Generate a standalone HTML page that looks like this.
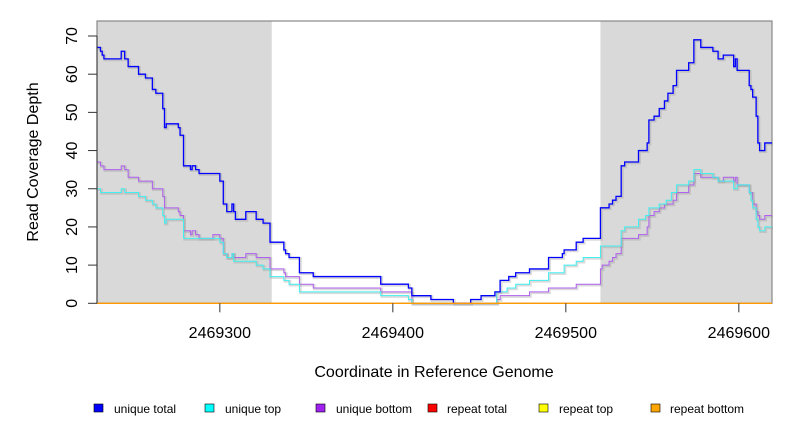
<!DOCTYPE html>
<html><head><meta charset="utf-8"><style>
body{margin:0;background:#fff;}
svg{display:block;font-family:"Liberation Sans",sans-serif;}
</style></head><body>
<svg id="c" width="792" height="432">
</svg>
<script>
const xTicks=[2469300,2469400,2469500,2469600];
const yTicks=[0,10,20,30,40,50,60,70];
const repeatRegions=[[2469229,2469330],[2469520,2469619]];
const totalX=[2469229,2469231,2469232,2469233,2469243,2469245,2469247,2469253,2469257,2469261,2469263,2469267,2469268,2469269,2469276,2469277,2469279,2469283,2469284,2469286,2469288,2469300,2469302,2469304,2469307,2469308,2469309,2469315,2469321,2469325,2469329,2469337,2469338,2469340,2469346,2469354,2469393,2469409,2469411,2469422,2469435,2469445,2469451,2469459,2469462,2469467,2469471,2469479,2469490,2469498,2469499,2469506,2469510,2469520,2469521,2469525,2469527,2469529,2469532,2469534,2469542,2469547,2469548,2469551,2469554,2469557,2469559,2469562,2469564,2469571,2469574,2469578,2469585,2469588,2469591,2469597,2469598,2469599,2469606,2469607,2469608,2469610,2469611,2469612,2469615];
const totalV=[67,66,65,64,66,64,62,60,59,56,55,51,46,47,46,44,36,35,36,35,34,32,26,24,26,24,22,24,22,21,16,14,13,12,8,7,5,4,2,1,0,1,2,3,6,7,8,9,12,13,14,16,17,25,25,26,27,28,36,37,40,42,48,49,51,53,55,57,61,63,69,67,66,64,65,62,64,61,57,56,54,49,42,40,42];
const topX=[2469229,2469231,2469243,2469245,2469253,2469257,2469261,2469263,2469267,2469268,2469269,2469279,2469300,2469302,2469304,2469307,2469308,2469315,2469321,2469325,2469329,2469337,2469340,2469346,2469393,2469409,2469411,2469460,2469466,2469471,2469479,2469490,2469499,2469506,2469510,2469520,2469532,2469534,2469542,2469546,2469548,2469554,2469558,2469561,2469564,2469571,2469574,2469578,2469585,2469588,2469597,2469599,2469606,2469607,2469608,2469610,2469611,2469612,2469615];
const topV=[30,29,30,29,28,27,26,25,23,21,22,17,16,13,12,13,11,11,10,9,7,6,5,3,2,1,0,3,4,5,6,8,10,11,12,15,19,20,22,23,25,26,27,29,31,32,35,34,33,32,30,31,29,27,25,22,20,19,20];
const bottomX=[2469229,2469231,2469233,2469243,2469245,2469247,2469253,2469261,2469267,2469268,2469276,2469277,2469279,2469283,2469284,2469286,2469288,2469296,2469300,2469302,2469304,2469307,2469308,2469315,2469321,2469329,2469337,2469338,2469346,2469354,2469393,2469411,2469460,2469462,2469479,2469490,2469506,2469520,2469521,2469525,2469527,2469529,2469532,2469542,2469547,2469548,2469551,2469554,2469557,2469562,2469564,2469571,2469574,2469578,2469588,2469591,2469597,2469598,2469599,2469606,2469608,2469610,2469611,2469612,2469615];
const bottomV=[37,36,35,36,35,33,32,30,28,25,24,23,19,18,19,18,17,18,17,13,12,13,12,13,12,9,8,7,5,4,3,0,1,2,3,4,5,9,10,11,12,13,17,18,20,23,24,25,26,27,29,31,34,33,32,33,32,33,31,29,26,24,23,22,23];
const XMIN=2469229,XMAX=2469619,YMAX=70;
const L=97,R=772,T=21,B=303.3;
const sx=v=>L+(v-XMIN)*1.73;
const sy=v=>B-v*(B-36)/70;
const svg=document.getElementById('c');
const NS='http://www.w3.org/2000/svg';
function mk(tag,attrs,parent){const e=document.createElementNS(NS,tag);for(const k in attrs)e.setAttribute(k,attrs[k]);(parent||svg).appendChild(e);return e;}
repeatRegions.forEach(r=>{
 const e=mk('rect',{x:sx(r[0]),y:T,width:sx(r[1])-sx(r[0]),height:B-T,fill:'#d9d9d9'});
 
 
});
const box=mk('rect',{x:L,y:T,width:R-L,height:B-T,fill:'none',stroke:'#888','stroke-width':1.2});


function stepPath(xs,vs){let d='';for(let i=0;i<xs.length;i++){const x=sx(xs[i]),y=sy(vs[i]);if(i===0)d+='M'+x+' '+y;else d+=' V'+y;const nx=i<xs.length-1?sx(xs[i+1]):R;d+=' H'+nx;}return d;}
function line(xs,vs,color,name,w){
 const sh=mk('path',{d:stepPath(xs,vs),fill:'none',stroke:'#999','stroke-width':w+1.5,'stroke-opacity':0.35,transform:'translate(1,1)'});
 
 
 const p=mk('path',{d:stepPath(xs,vs),fill:'none',stroke:color,'stroke-width':w});
 
 
}
line(bottomX,bottomV,'#b060f0','unique-bottom-line',1);
line(topX,topV,'#40f0f0','unique-top-line',1);
line(totalX,totalV,'#0000ff','unique-total-line',1.3);
const base=mk('line',{x1:L,x2:R,y1:B,y2:B,stroke:'#ff9900','stroke-width':1.3});


const ya=mk('line',{x1:L,x2:L,y1:sy(0),y2:sy(70),stroke:'#333'});


yTicks.forEach(v=>{
 const t=mk('line',{x1:L-9,x2:L,y1:sy(v),y2:sy(v),stroke:'#333'});
 
 
 const tx=mk('text',{x:0,y:0,'text-anchor':'middle','font-size':16,fill:'#000',transform:'translate(77,'+sy(v)+') rotate(-90)'});
 tx.textContent=v;
 
 
});
xTicks.forEach(v=>{
 const t=mk('line',{x1:sx(v),x2:sx(v),y1:B,y2:B+9,stroke:'#333'});
 
 
 const tx=mk('text',{x:sx(v),y:338,'text-anchor':'middle','font-size':16,fill:'#000'});
 tx.textContent=v;
 
 
});
</script>
<svg style="position:absolute;left:0;top:0" width="792" height="432">
<text x="434" y="377" text-anchor="middle" font-size="16" font-family="Liberation Sans, sans-serif">Coordinate in Reference Genome</text>
<text transform="translate(38,162) rotate(-90)" text-anchor="middle" font-size="16" font-family="Liberation Sans, sans-serif">Read Coverage Depth</text>
<g font-size="12" font-family="Liberation Sans, sans-serif">
<g><rect x="94" y="404" width="9" height="8" fill="#0000ff" stroke="#000" stroke-width="0.6"/><text x="114" y="413">unique total</text></g>
<g><rect x="205" y="404" width="9" height="8" fill="#00ffff" stroke="#000" stroke-width="0.6"/><text x="225" y="413">unique top</text></g>
<g><rect x="316" y="404" width="9" height="8" fill="#a020f0" stroke="#000" stroke-width="0.6"/><text x="336" y="413">unique bottom</text></g>
<g><rect x="428" y="404" width="9" height="8" fill="#ff0000" stroke="#000" stroke-width="0.6"/><text x="447" y="413">repeat total</text></g>
<g><rect x="539" y="404" width="9" height="8" fill="#ffff00" stroke="#000" stroke-width="0.6"/><text x="559" y="413">repeat top</text></g>
<g><rect x="651" y="404" width="9" height="8" fill="#ffa500" stroke="#000" stroke-width="0.6"/><text x="670" y="413">repeat bottom</text></g>
</g>
</svg>
</body></html>
